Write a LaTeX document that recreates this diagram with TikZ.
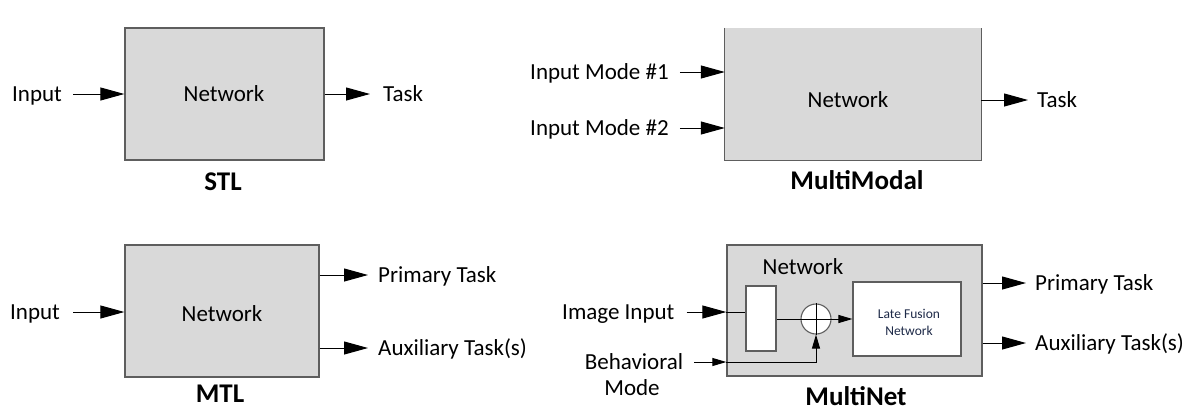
\documentclass[tikz,border=0pt]{standalone}
\usepackage{fontspec}
\setmainfont{Carlito}
\usetikzlibrary{arrows.meta}
\definecolor{netfill}{HTML}{D9D9D9}
\definecolor{boxgray}{HTML}{5E5E5E}
\definecolor{navytext}{HTML}{1E2A48}
\begin{document}
\begin{tikzpicture}[x=1pt,y=-1pt,
  netbox/.style={draw=boxgray, line width=1.3pt, fill=netfill, inner sep=0pt},
  whitebox/.style={draw=boxgray, line width=1.1pt, fill=white, inner sep=0pt},
  lbl/.style={font=\fontsize{23}{27}\selectfont, inner sep=0pt, text height=17pt, text depth=3pt},
  captext/.style={font=\bfseries\fontsize{27}{31}\selectfont, inner sep=0pt, text height=19pt, text depth=3pt},
  bigarr/.style={line width=1pt, -{Triangle[length=24pt,width=13pt]}},
  smallarr/.style={line width=1pt, -{Triangle[length=14pt,width=8pt]}},
  plainline/.style={line width=1pt}]
\useasboundingbox (0,0) rectangle (1187,413);

% ---------- STL ----------
\node[netbox, minimum width=199pt, minimum height=132pt] (stl) at (224.5,94) {};
\node[lbl] (stlnet) at (224,94) {Network};
\node[lbl, anchor=west] (stlin) at (12,94) {Input};
\node[lbl, anchor=west] (stltask) at (383,94) {Task};
\draw[bigarr] ([xshift=11pt]stlin.east) -- (stlin.east -| stl.west);
\draw[bigarr] (stltask.west -| stl.east) -- ([xshift=-13pt]stltask.west);
\node[captext] (stlcap) at (223,182) {STL};

% ---------- MultiModal ----------
\node[fill=netfill, inner sep=0pt, minimum width=256pt, minimum height=132pt] (mm) at (853,94) {};
\draw[boxgray, line width=1.3pt] (mm.north west) -- (mm.south west) -- (mm.south east) -- (mm.north east);
\node[lbl] (mmnet) at (848,100) {Network};
\node[lbl, anchor=west] (im1) at (530,72) {Input Mode \#1};
\node[lbl, anchor=west] (im2) at (530,128) {Input Mode \#2};
\node[lbl, anchor=west] (mmtask) at (1037,100) {Task};
\draw[bigarr] ([xshift=11pt]im1.east) -- (im1.east -| mm.west);
\draw[bigarr] ([xshift=11pt]im2.east) -- (im2.east -| mm.west);
\draw[bigarr] (mmtask.west -| mm.east) -- ([xshift=-9pt]mmtask.west);
\node[captext] (mmcap) at (857,181) {MultiModal};

% ---------- MTL ----------
\node[netbox, minimum width=194pt, minimum height=132pt] (mtl) at (222,311) {};
\node[lbl] (mtlnet) at (222,314) {Network};
\node[lbl, anchor=west] (mtlin) at (10,312) {Input};
\node[lbl, anchor=west] (mtlp) at (378,275) {Primary Task};
\node[lbl, anchor=west] (mtla) at (378,348) {Auxiliary Task(s)};
\draw[bigarr] ([xshift=13pt]mtlin.east) -- (mtlin.east -| mtl.west);
\draw[bigarr] (mtlp.west -| mtl.east) -- ([xshift=-10pt]mtlp.west);
\draw[bigarr] (mtla.west -| mtl.east) -- ([xshift=-10pt]mtla.west);
\node[captext] (mtlcap) at (220,394) {MTL};

% ---------- MultiNet ----------
\node[netbox, minimum width=255pt, minimum height=131pt] (mn) at (854.5,310.5) {};
\node[lbl] (mnnet) at (803,267) {Network};
\node[whitebox, minimum width=30pt, minimum height=65pt] (sr) at (761,318.5) {};
\node[whitebox, circle, minimum size=30pt] (ps) at (816,319) {};
\draw[plainline] (ps.north) -- (ps.south);
\draw[plainline] (ps.west) -- (ps.east);
\node[whitebox, minimum width=108pt, minimum height=74pt] (lf) at (907,319) {};
\node[inner sep=0pt, align=center, text=navytext, font=\fontsize{13.5}{17}\selectfont] (lftext) at (909,322) {Late Fusion\\Network};
\node[lbl, anchor=west] (imgin) at (562,312) {Image Input};
\node[lbl] (beh1) at (634,362) {Behavioral};
\node[lbl] (beh2) at (632,388) {Mode};
\node[lbl, anchor=west] (mnp) at (1035,283) {Primary Task};
\node[lbl, anchor=west] (mna) at (1035,343) {Auxiliary Task(s)};
\draw[bigarr] ([xshift=12pt]imgin.east) -- (imgin.east -| mn.west);
\draw[plainline] (imgin.east -| mn.west) -- (imgin.east -| sr.west);
\draw[plainline] (ps.west -| sr.east) -- (ps.west);
\draw[smallarr] (ps.east) -- (ps.east -| lf.west);
\draw[smallarr] ([xshift=11pt]beh1.east) -- (beh1.east -| mn.west);
\draw[smallarr] (beh1.east -| mn.west) -- (beh1.east -| ps.south) -- (ps.south);
\draw[bigarr] (mnp.west -| mn.east) -- ([xshift=-9pt]mnp.west);
\draw[bigarr] (mna.west -| mn.east) -- ([xshift=-9pt]mna.west);
\node[captext] (mncap) at (856,397) {MultiNet};
\end{tikzpicture}
\end{document}
